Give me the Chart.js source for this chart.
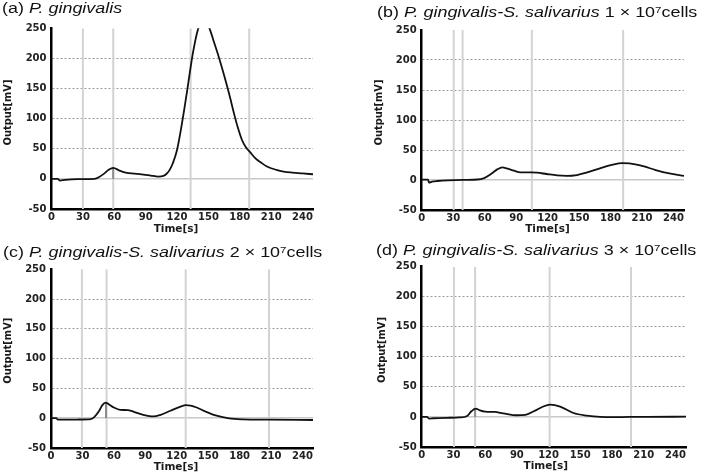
<!DOCTYPE html>
<html>
<head>
<meta charset="utf-8">
<script src="https://cdn.jsdelivr.net/npm/chart.js@4.4.1/dist/chart.umd.min.js"></script>
<style>
  html, body { margin: 0; padding: 0; background: #fff; }
  #wrap { position: relative; width: 709px; height: 476px; overflow: hidden; }
  #wrap canvas { position: absolute; }
  .ttl {
    position: absolute; white-space: nowrap; color: #111;
    font: 14px "Liberation Sans", Arial, sans-serif; line-height: 16px;
    transform: scaleX(1.28); transform-origin: 0 0;
  }
  .ttl sup { font-size: 9px; vertical-align: top; position: relative; top: -2px; }
</style>
</head>
<body>
<div id="wrap">
  <canvas id="chA" width="355" height="236" style="left:0;top:0"></canvas>
  <canvas id="chB" width="354" height="236" style="left:355px;top:0"></canvas>
  <canvas id="chC" width="355" height="240" style="left:0;top:236px"></canvas>
  <canvas id="chD" width="354" height="240" style="left:355px;top:236px"></canvas>
  <div class="ttl" style="left:2px;top:0px">(a) <i>P. gingivalis</i></div>
  <div class="ttl" style="left:377px;top:4px">(b) <i>P. gingivalis-S. salivarius</i> 1 × 10<sup>7</sup>cells</div>
  <div class="ttl" style="left:3px;top:244px">(c) <i>P. gingivalis-S. salivarius</i> 2 × 10<sup>7</sup>cells</div>
  <div class="ttl" style="left:376px;top:242px">(d) <i>P. gingivalis-S. salivarius</i> 3 × 10<sup>7</sup>cells</div>
</div>
<script>
// axis ticks
const xTicks = [0, 30, 60, 90, 120, 150, 180, 210, 240];
const yTicks = [-50, 0, 50, 100, 150, 200, 250];
const xMax = 250;
const xTitle = 'Time[s]';
const yTitle = 'Output[mV]';

// (a) P. gingivalis
const timeA = [0, 6, 8, 13, 25, 41, 44, 50, 55, 59, 65, 72, 79, 88, 95, 102, 107, 110, 113, 116,
  120, 125, 130, 135, 140, 145, 151, 155, 160, 165, 170, 175, 178, 182, 186, 190, 195, 200, 206, 215,
  222, 230, 240, 250];
const outA = [0, 0, -2.8, -1.7, -0.5, 0, 1.7, 8.3, 15.5, 18.3, 13.8, 10, 8.9, 7.2, 5.5, 3.9, 5, 8.5, 15, 26,
  48, 95, 150, 207, 248, 266, 250, 229, 202, 172, 140, 105, 86, 65, 52, 44, 34, 27.5, 20.5, 15,
  12.2, 10.5, 9, 7.7];
const markersA = [30, 59, 133, 189];
const stubA = [59, 18];

// (b) 1 x 10^7 cells
const timeB = [0, 6, 7, 10, 15, 25, 40, 53, 59, 66, 72, 77, 81, 88, 94, 104, 110, 119, 129, 138,
  148, 157, 170, 182, 191, 198, 211, 223, 236, 250];
const outB = [0.5, 0.5, -4.4, -2.8, -1.7, -0.5, 0.3, 0.8, 2.8, 10, 17.7, 21, 19.4, 15.5, 12.7, 12.7, 12.2, 10, 7.7, 6.9,
  8.3, 12.2, 19.4, 25.5, 28.2, 27.7, 23, 16.6, 11, 7];
const markersB = [30.5, 39, 105, 192];

// (c) 2 x 10^7 cells
const timeC = [0, 5, 6.5, 8, 25, 38, 41, 46, 49, 52, 55, 60, 66, 73, 79, 88, 98, 104, 114, 123,
  129, 139, 148, 158, 170, 183, 208, 250];
const outC = [0.3, 0.3, -2.5, -2.5, -2.2, -1.4, 1.4, 12.5, 22, 26.3, 23.5, 18, 14, 13.6, 10.8, 5.8, 3, 5.3, 12.5, 19,
  21.9, 18, 10.8, 4.2, -0.3, -1.9, -2.5, -3];
const markersC = [29.5, 53, 128.5, 208];
const stubC = [52.5, 26];

// (d) 3 x 10^7 cells
const timeD = [0, 5, 7, 11, 24, 36, 43, 47, 51, 55, 60, 69, 77, 90, 98, 106, 114, 121.5, 131, 143.5,
  156, 169, 181, 197, 213, 250];
const outD = [0, 0, -2.8, -2.2, -1.4, -0.8, 1.7, 9.4, 13.8, 11, 8.9, 8.3, 6.1, 2.8, 3.3, 9.4, 16.6, 20.5, 17.2, 6.6,
  2.2, 0, -0.3, 0, 0, 0.5];
const markersD = [30.5, 50.5, 121, 198];
const stubD = [50.5, 13.5];

Chart.defaults.font.family = '"DejaVu Sans", sans-serif';

// draws the two axis titles at fixed spots
const axisTitles = {
  id: 'axisTitles',
  afterDraw(chart, args, opts) {
    const ctx = chart.ctx;
    ctx.save();
    ctx.fillStyle = '#1a1a1a';
    ctx.textAlign = 'center';
    ctx.textBaseline = 'middle';
    ctx.font = 'bold 10.5px "DejaVu Sans"';
    ctx.fillText(xTitle, opts.x[0], opts.x[1]);
    ctx.translate(opts.y[0], opts.y[1]);
    ctx.rotate(-Math.PI / 2);
    ctx.font = 'bold 11px "Liberation Sans Narrow", "DejaVu Sans Condensed", sans-serif';
    ctx.fillText(yTitle, 0, 0);
    ctx.restore();
  }
};

function makeChart(id, area, times, outs, markers, stub, titles) {
  const cv = document.getElementById(id);
  const W = cv.width, H = cv.height;
  const datasets = [{
    data: times.map((t, i) => ({ x: t, y: outs[i] })),
    borderColor: '#111',
    borderWidth: 1.8,
    pointRadius: 0,
    cubicInterpolationMode: 'monotone',
    order: 0
  }];
  markers.forEach(m => {
    datasets.push({
      data: [{ x: m, y: yTicks[0] }, { x: m, y: yTicks[yTicks.length - 1] }],
      borderColor: '#d3d3d3',
      borderWidth: 2,
      pointRadius: 0,
      order: 3
    });
  });
  if (stub) {
    datasets.push({
      data: [{ x: stub[0], y: 0 }, { x: stub[0], y: stub[1] }],
      borderColor: '#8a8a8a',
      borderWidth: 2,
      pointRadius: 0,
      order: 1
    });
  }
  const tickFont = { weight: 'bold', size: 10 };
  return new Chart(cv, {
    type: 'line',
    data: { datasets },
    plugins: [axisTitles],
    options: {
      responsive: false,
      animation: false,
      events: [],
      layout: { padding: { left: 0, top: area.top, right: W - area.right, bottom: 0 } },
      plugins: {
        legend: { display: false },
        tooltip: { enabled: false },
        axisTitles: titles
      },
      scales: {
        x: {
          type: 'linear',
          min: 0,
          max: xMax,
          afterFit: s => { s.height = H - area.bottom; },
          afterBuildTicks: s => { s.ticks = xTicks.map(v => ({ value: v })); },
          grid: { display: false, drawTicks: false },
          border: { color: '#000', width: 2.5 },
          ticks: { padding: 2, color: '#222', font: tickFont, maxRotation: 0, autoSkip: false }
        },
        y: {
          type: 'linear',
          min: yTicks[0],
          max: yTicks[yTicks.length - 1],
          afterFit: s => { s.width = area.left; },
          afterBuildTicks: s => { s.ticks = yTicks.map(v => ({ value: v })); },
          grid: {
            drawTicks: false,
            color: c => {
              const v = c.tick ? c.tick.value : null;
              if (v === 0) return '#c8c8c8';
              if (v === yTicks[0] || v === yTicks[yTicks.length - 1]) return 'rgba(0,0,0,0)';
              return '#9a9a9a';
            },
            lineWidth: c => (c.tick && c.tick.value === 0 ? 1.5 : 1)
          },
          border: {
            color: '#000',
            width: 2.5,
            dash: c => (c.tick && c.tick.value !== 0 ? [2, 2] : [])
          },
          ticks: { padding: 5, color: '#222', font: tickFont }
        }
      }
    }
  });
}

makeChart('chA', { left: 51.5, top: 28.3, right: 313, bottom: 209 }, timeA, outA, markersA, stubA,
  { x: [176, 229.3], y: [8.5, 112.5] });
makeChart('chB', { left: 66.7, top: 30, right: 329, bottom: 210 }, timeB, outB, markersB, null,
  { x: [192.5, 229.3], y: [24, 112.5] });
makeChart('chC', { left: 51, top: 33.3, right: 313, bottom: 212 }, timeC, outC, markersC, stubC,
  { x: [176, 231], y: [8.3, 114.7] });
makeChart('chD', { left: 66.7, top: 30.7, right: 331, bottom: 211 }, timeD, outD, markersD, stubD,
  { x: [190.8, 230.5], y: [27.5, 114] });
</script>
</body>
</html>
